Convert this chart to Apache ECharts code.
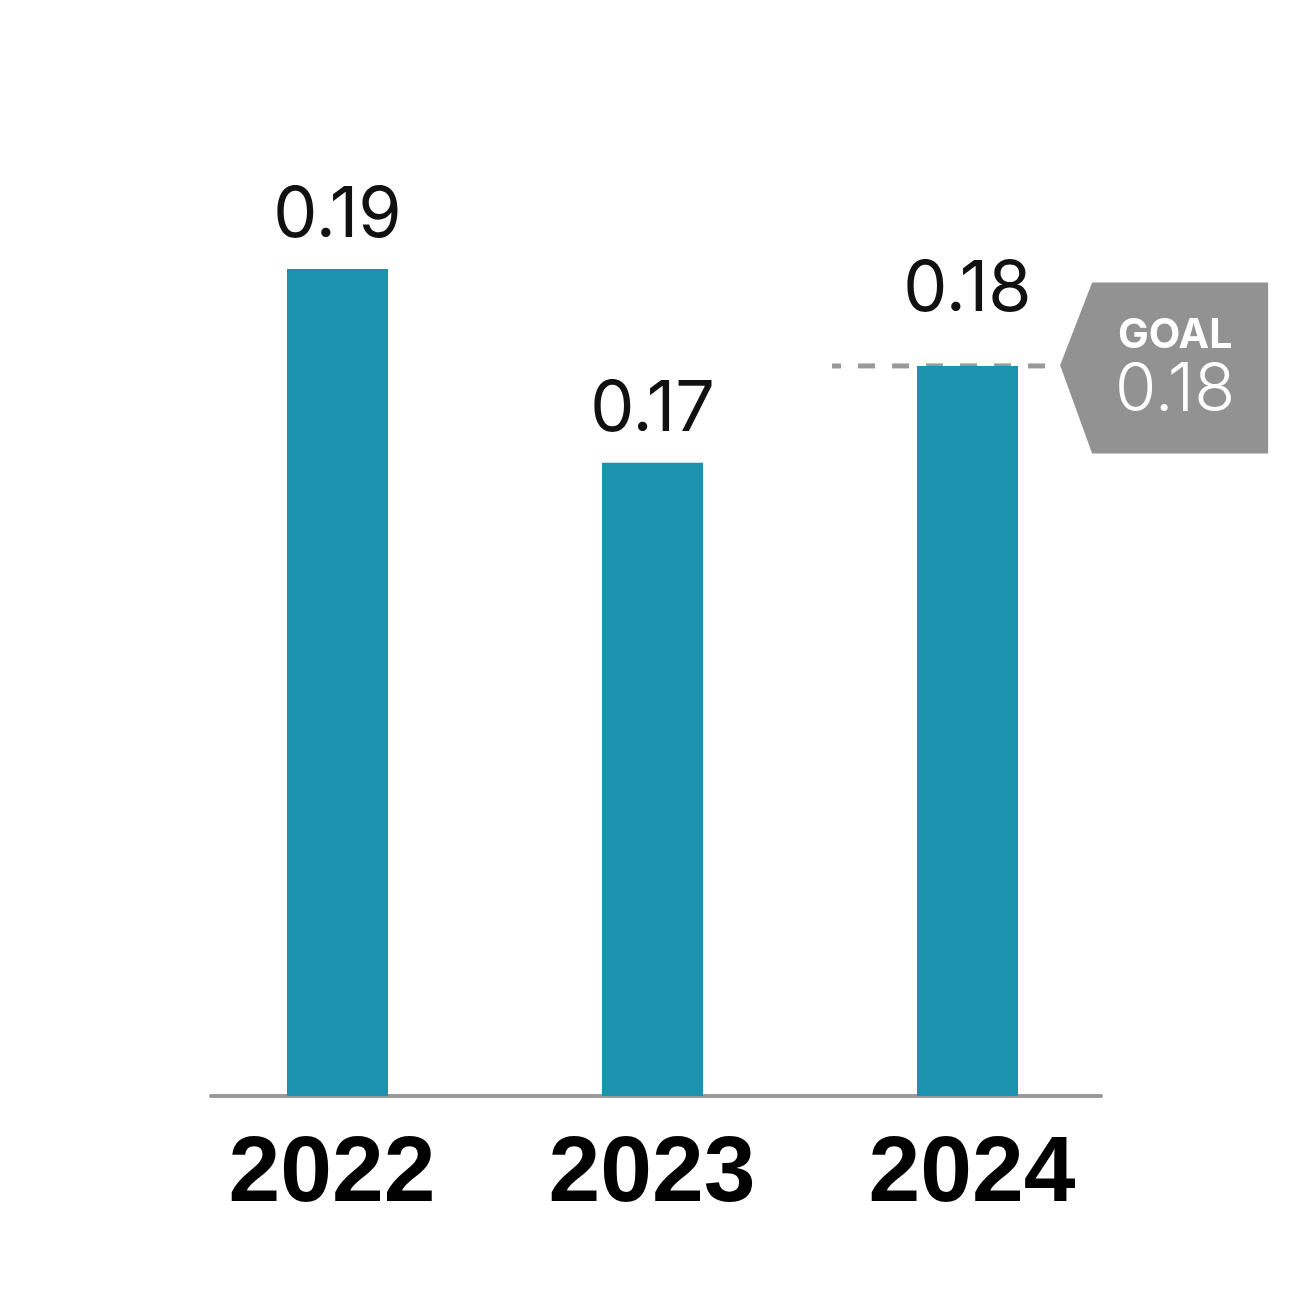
<!DOCTYPE html>
<html>
<head>
<meta charset="utf-8">
<title>chart</title>
<script src="https://cdn.jsdelivr.net/npm/echarts@6.0.0/dist/echarts.min.js"></script>
<style>
html, body { margin: 0; padding: 0; background: #ffffff; }
#main { width: 1296px; height: 1296px; }
</style>
</head>
<body>
<div id="main"></div>
<script>
// 数据
var years = ['2022', '2023', '2024'];
var values = [0.19, 0.17, 0.18];
var goalYear = '2024';
var goalValue = 0.18;
var goalLabel = 'GOAL';
// 目标虚线在隐藏数值轴上的起止位置（类目序号）
var goalRange = [1.57, 2.294];

var myChart = echarts.init(document.getElementById('main'));

// 柱子数据，目标年份的数值标签抬高一点
var barData = values.map(function (v, i) {
    if (years[i] === goalYear) {
        return { value: v, label: { distance: 41 } };
    }
    return v;
});

var option = {
    backgroundColor: '#ffffff',
    animation: false,
    grid: [
        { left: 180, right: 171, top: 172, bottom: 200 },   // 柱子
        { left: 211, right: 195, top: 172, bottom: 200 },   // 底部轴线
        { left: 172, right: 164, top: 172, bottom: 200 }    // 年份标签
    ],
    xAxis: [
        {
            type: 'category',
            gridIndex: 0,
            data: years,
            axisLine: { show: false },
            axisTick: { show: false },
            axisLabel: { show: false }
        },
        {
            type: 'value',
            gridIndex: 0,
            position: 'top',
            min: -0.5,
            max: 2.5,
            show: false
        },
        {
            type: 'value',
            gridIndex: 1,
            min: 0,
            max: 1,
            axisLine: { show: true, lineStyle: { color: '#999999', width: 4 } },
            axisTick: { show: false },
            axisLabel: { show: false },
            splitLine: { show: false }
        },
        {
            type: 'category',
            gridIndex: 2,
            data: years,
            axisLine: { show: false },
            axisTick: { show: false },
            axisLabel: {
                margin: 33,
                color: '#000000',
                fontFamily: '"Liberation Sans", Arial, sans-serif',
                fontWeight: 'bold',
                fontSize: 93
            }
        }
    ],
    yAxis: [
        { type: 'value', gridIndex: 0, min: 0.1047, max: 0.2, show: false },
        { type: 'value', gridIndex: 1, min: 0, max: 1, show: false },
        { type: 'value', gridIndex: 2, min: 0, max: 1, show: false }
    ],
    series: [
        {
            type: 'bar',
            xAxisIndex: 0,
            yAxisIndex: 0,
            data: barData,
            barWidth: 101,
            itemStyle: { color: '#1b93ae' },
            z: 3,
            label: {
                show: true,
                position: 'top',
                distance: 18,
                color: '#111111',
                fontFamily: 'Inter, sans-serif',
                fontWeight: 400,
                fontSize: 70,
                formatter: function (p) { return p.value.toFixed(2); }
            }
        },
        {
            // 目标虚线 + 标签
            type: 'line',
            xAxisIndex: 1,
            yAxisIndex: 0,
            data: [[goalRange[0], goalValue], [goalRange[1], goalValue]],
            showSymbol: false,
            symbol: 'none',
            z: 2,
            lineStyle: { color: '#999999', width: 5, type: [17, 17], dashOffset: 8 },
            markPoint: {
                symbol: 'path://M0,48.5L15.4,0L100,0L100,100L15.4,100Z',
                symbolSize: [208, 171],
                symbolOffset: [104, 2],
                itemStyle: { color: '#929292' },
                label: {
                    show: true,
                    position: 'inside',
                    offset: [11, 0],
                    color: '#ffffff',
                    formatter: function () { return '{a|' + goalLabel + '}\n{b|' + goalValue.toFixed(2) + '}'; },
                    rich: {
                        a: { fontFamily: 'Inter, sans-serif', fontWeight: 'bold', fontSize: 41, lineHeight: 46, color: '#ffffff' },
                        b: { fontFamily: 'Inter, sans-serif', fontWeight: 300, fontSize: 67, lineHeight: 64, color: '#ffffff' }
                    }
                },
                data: [{ coord: [goalRange[1], goalValue] }]
            }
        }
    ]
};

myChart.setOption(option);
</script>
</body>
</html>
